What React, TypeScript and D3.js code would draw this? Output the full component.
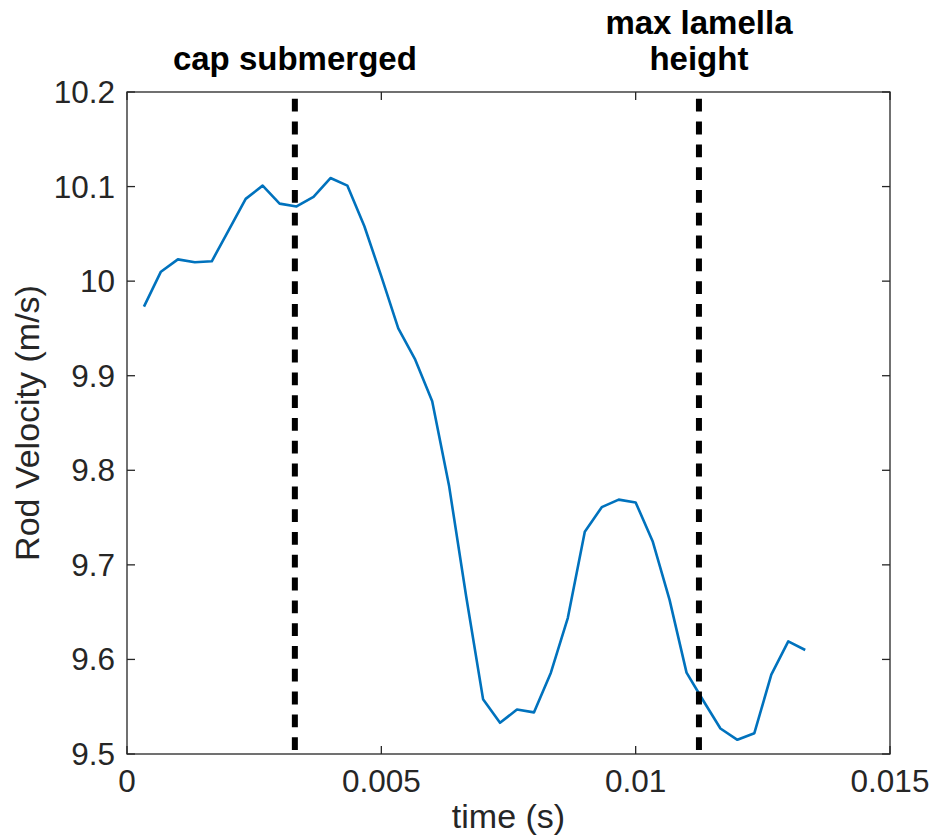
import React from "react";
import * as d3 from "d3";

const timeIndex: number[] = [
  1, 2, 3, 4, 5, 6, 7, 8, 9, 10, 11, 12, 13, 14, 15, 16, 17, 18, 19, 20,
  21, 22, 23, 24, 25, 26, 27, 28, 29, 30, 31, 32, 33, 34, 35, 36, 37, 38, 39, 40,
];
const frameRate = 3000;
const velocity: number[] = [
  9.973, 10.01, 10.023, 10.02, 10.021, 10.054, 10.087, 10.101, 10.082, 10.079,
  10.089, 10.109, 10.101, 10.058, 10.005, 9.95, 9.917, 9.873, 9.783, 9.667,
  9.558, 9.533, 9.547, 9.544, 9.586, 9.644, 9.735, 9.761, 9.769, 9.766,
  9.725, 9.663, 9.586, 9.556, 9.527, 9.515, 9.522, 9.584, 9.619, 9.61,
];
const xTicks: number[] = [0, 0.005, 0.01, 0.015];
const xTickLabels: string[] = ["0", "0.005", "0.01", "0.015"];
const yTicks: number[] = [9.5, 9.6, 9.7, 9.8, 9.9, 10, 10.1, 10.2];
const yTickLabels: string[] = ["9.5", "9.6", "9.7", "9.8", "9.9", "10", "10.1", "10.2"];
const eventTimes: number[] = [0.0033, 0.011244];
const eventLabels: string[][] = [["cap submerged"], ["max lamella", "height"]];

const W = 936;
const H = 838;
const left = 127;
const right = 890;
const top = 92;
const bottom = 754;
const axisColor = "#262626";
const font = "'Liberation Sans', Arial, Helvetica, sans-serif";

export default function App() {
  const x = d3.scaleLinear().domain([0, 0.015]).range([left, right]);
  const y = d3.scaleLinear().domain([9.5, 10.2]).range([bottom, top]);
  const pts = timeIndex.map((i, k) => [i / frameRate, velocity[k]] as [number, number]);
  const line = d3
    .line<[number, number]>()
    .x((d) => x(d[0]))
    .y((d) => y(d[1]));
  const tickLen = 8;

  return (
    <svg
      width={W}
      height={H}
      style={{ position: "absolute", left: 0, top: 0, background: "#fff" }}
      fontFamily={font}
    >
      <rect x={0} y={0} width={W} height={H} fill="#fff" />
      {/* data line */}
      <path d={line(pts) ?? ""} fill="none" stroke="#0072BD" strokeWidth={2.6} strokeLinejoin="round" />
      {/* event dashed lines */}
      {eventTimes.map((t, i) => (
        <line
          key={"ev" + i}
          x1={x(t)}
          x2={x(t)}
          y1={y(10.2)}
          y2={y(9.5)}
          stroke="#000"
          strokeWidth={6}
          strokeDasharray="12.8,10"
          strokeDashoffset={16}
        />
      ))}
      {/* axes box */}
      <rect x={left} y={top} width={right - left} height={bottom - top} fill="none" stroke={axisColor} strokeWidth={1.3} />
      {/* x ticks */}
      {xTicks.map((t, i) => (
        <g key={"xt" + i}>
          <line x1={x(t)} x2={x(t)} y1={bottom} y2={bottom - tickLen} stroke={axisColor} strokeWidth={1.3} />
          <line x1={x(t)} x2={x(t)} y1={top} y2={top + tickLen} stroke={axisColor} strokeWidth={1.3} />
          <text x={x(t)} y={792} textAnchor="middle" fontSize={31.5} fill={axisColor}>
            {xTickLabels[i]}
          </text>
        </g>
      ))}
      {/* y ticks */}
      {yTicks.map((t, i) => (
        <g key={"yt" + i}>
          <line x1={left} x2={left + tickLen} y1={y(t)} y2={y(t)} stroke={axisColor} strokeWidth={1.3} />
          <line x1={right} x2={right - tickLen} y1={y(t)} y2={y(t)} stroke={axisColor} strokeWidth={1.3} />
          <text x={115} y={y(t) + 11} textAnchor="end" fontSize={31.5} fill={axisColor}>
            {yTickLabels[i]}
          </text>
        </g>
      ))}
      {/* axis labels */}
      <text x={(left + right) / 2} y={828} textAnchor="middle" fontSize={34} fill={axisColor}>
        time (s)
      </text>
      <text
        transform={`translate(39, ${(top + bottom) / 2}) rotate(-90)`}
        textAnchor="middle"
        fontSize={34}
        fill={axisColor}
      >
        Rod Velocity (m/s)
      </text>
      {/* event labels */}
      {eventTimes.map((t, i) => {
        const lines = eventLabels[i];
        const baseY = 70 - (lines.length - 1) * 36;
        return (
          <text key={"el" + i} x={x(t)} textAnchor="middle" fontSize={33} fontWeight="bold" fill="#000">
            {lines.map((s, j) => (
              <tspan key={j} x={x(t)} y={baseY + j * 36}>
                {s}
              </tspan>
            ))}
          </text>
        );
      })}
    </svg>
  );
}
